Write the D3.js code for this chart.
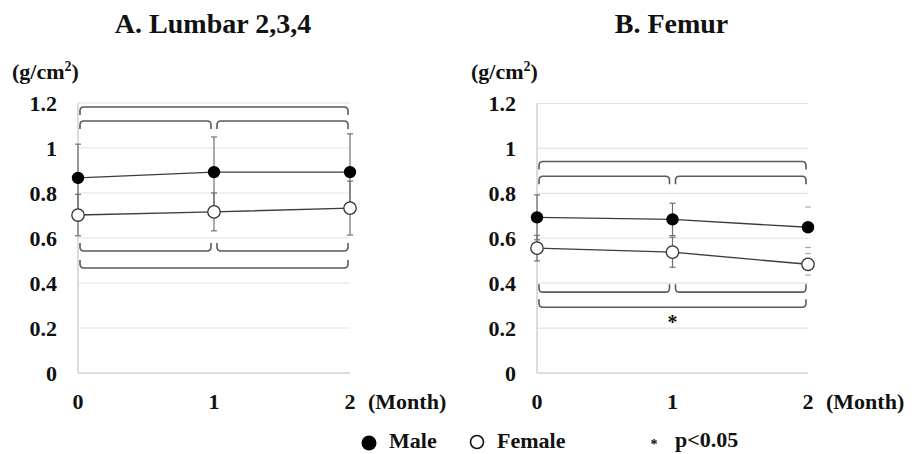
<!DOCTYPE html>
<html><head><meta charset="utf-8">
<script src="https://cdn.jsdelivr.net/npm/d3@7"></script>
<style>
body{margin:0;background:#fff;}
</style></head>
<body><svg id="c" width="912" height="454"></svg>
<script>
// ---- data ----
const months = [0, 1, 2];
const yTicks = [0, 0.2, 0.4, 0.6, 0.8, 1, 1.2];
const panelTitles = ["A. Lumbar 2,3,4", "B. Femur"];
const lumbarMale = [0.867, 0.893, 0.893];
const lumbarMaleSD = [0.15, 0.156, 0.17];
const lumbarFemale = [0.702, 0.716, 0.733];
const lumbarFemaleSD = [0.092, 0.084, 0.12];
const femurMale = [0.693, 0.684, 0.649];
const femurMaleSD = [0.10, 0.072, 0.09];
const femurFemale = [0.556, 0.538, 0.484];
const femurFemaleSD = [0.057, 0.067, 0.048];
// brackets: [from, to, level (g/cm2), direction (1=down tips, -1=up tips), significant]
const lumbarBrackets = [[0,2,1.182,1,false],[0,1,1.12,1,false],[1,2,1.12,1,false],[0,1,0.542,-1,false],[1,2,0.542,-1,false],[0,2,0.467,-1,false]];
const femurBrackets  = [[0,2,0.942,1,false],[0,1,0.876,1,false],[1,2,0.876,1,false],[0,1,0.36,-1,false],[1,2,0.36,-1,false],[0,2,0.293,-1,true]];
const legendLabels = ["Male", "Female", "p<0.05"];

const FONT = "'Liberation Serif', 'Times New Roman', Times, 'DejaVu Serif', serif";
const svg = d3.select("#c");
const T = sel => sel.attr("font-family", FONT).attr("font-weight", "bold").attr("fill", "#111");

const panels = [
  {title: panelTitles[0], left: 78, right: 350, top: 103, bottom: 373,
   male: lumbarMale, maleSD: lumbarMaleSD, female: lumbarFemale, femaleSD: lumbarFemaleSD,
   brackets: lumbarBrackets, capsOnlyLast: false},
  {title: panelTitles[1], left: 537, right: 808, top: 103.5, bottom: 373,
   male: femurMale, maleSD: femurMaleSD, female: femurFemale, femaleSD: femurFemaleSD,
   brackets: femurBrackets, capsOnlyLast: true}
];

panels.forEach(p => {
  const g = svg.append("g");
  const x = d3.scaleLinear().domain([0, 2]).range([p.left, p.right]);
  const y = d3.scaleLinear().domain([0, 1.2]).range([p.bottom, p.top]);

  // title
  g.append("text").attr("x", (p.left + p.right) / 2 - 1).attr("y", 33)
    .attr("text-anchor", "middle").attr("font-size", 28).call(T).text(p.title);
  // unit label
  const u = g.append("text").attr("x", p.left - 66).attr("y", 79).attr("font-size", 22).call(T);
  u.append("tspan").text("(g/cm");
  u.append("tspan").attr("dy", -8).attr("font-size", 14).text("2");
  u.append("tspan").attr("dy", 8).text(")");

  // gridlines
  g.selectAll(".grid").data(yTicks.filter(t => t > 0)).join("line")
    .attr("x1", p.left).attr("x2", p.right)
    .attr("y1", d => y(d)).attr("y2", d => y(d))
    .attr("stroke", "#e2e2e2").attr("stroke-width", 1.2);
  // axes lines
  g.append("line").attr("x1", p.left).attr("x2", p.left).attr("y1", y(1.2)).attr("y2", y(0))
    .attr("stroke", "#d0d0d0").attr("stroke-width", 1.5);
  g.append("line").attr("x1", p.left).attr("x2", p.right).attr("y1", y(0)).attr("y2", y(0))
    .attr("stroke", "#d0d0d0").attr("stroke-width", 1.5);

  // y tick labels
  g.selectAll(".yt").data(yTicks).join("text")
    .attr("x", p.left - 21).attr("y", d => y(d)).attr("dy", "0.35em")
    .attr("text-anchor", "end").attr("font-size", 22).call(T)
    .text(d => d3.format("")(d));
  // x tick labels
  g.selectAll(".xt").data(months).join("text")
    .attr("x", d => x(d)).attr("y", 409).attr("text-anchor", "middle")
    .attr("font-size", 22).call(T).text(d => d);
  g.append("text").attr("x", x(2) + 18).attr("y", 409).attr("font-size", 22).call(T).text("(Month)");

  // brackets
  const r = 4, tip = 8;
  p.brackets.forEach(b => {
    const [a, c, lvl, dir, sig] = b;
    let x0 = x(a) + 2, x1 = x(c) - 2;
    if (a === 1) x0 = x(a) + 3;
    if (c === 1) x1 = x(c) - 3;
    const yl = y(lvl), yt = yl + dir * tip;
    const path = `M${x0},${yt} L${x0},${yl + dir * r} Q${x0},${yl} ${x0 + r},${yl} L${x1 - r},${yl} Q${x1},${yl} ${x1},${yl + dir * r} L${x1},${yt}`;
    g.append("path").attr("d", path).attr("fill", "none").attr("stroke", "#5a5a5a").attr("stroke-width", 1.6);
    if (sig) {
      g.append("text").attr("x", (x(a) + x(c)) / 2).attr("y", yl + 22)
        .attr("text-anchor", "middle").attr("font-size", 20).call(T).text("*");
    }
  });

  // error bars
  const series = [{v: p.male, sd: p.maleSD}, {v: p.female, sd: p.femaleSD}];
  series.forEach(s => {
    months.forEach((m, i) => {
      const cx = x(m), y1 = y(s.v[i] + s.sd[i]), y2 = y(s.v[i] - s.sd[i]);
      const capsOnly = p.capsOnlyLast && i === 2;
      if (!capsOnly) {
        g.append("line").attr("x1", cx).attr("x2", cx).attr("y1", y1).attr("y2", y2)
          .attr("stroke", "#707070").attr("stroke-width", 1.2);
      }
      [y1, y2].forEach(yy => g.append("line").attr("x1", cx - 3).attr("x2", cx + 3)
        .attr("y1", yy).attr("y2", yy).attr("stroke", capsOnly ? "#aaaaaa" : "#707070").attr("stroke-width", 1.2));
    });
  });

  // lines
  const line = d3.line().x((d, i) => x(months[i])).y(d => y(d));
  [p.male, p.female].forEach(v => {
    g.append("path").datum(v).attr("d", line).attr("fill", "none")
      .attr("stroke", "#3c3c3c").attr("stroke-width", 1.4);
  });
  // points
  g.selectAll(".pm").data(p.male).join("circle")
    .attr("cx", (d, i) => x(months[i])).attr("cy", d => y(d)).attr("r", 6.2).attr("fill", "#000");
  g.selectAll(".pf").data(p.female).join("circle")
    .attr("cx", (d, i) => x(months[i])).attr("cy", d => y(d)).attr("r", 6.2)
    .attr("fill", "#fff").attr("stroke", "#333").attr("stroke-width", 1.3);
});

// legend
const lg = svg.append("g");
lg.append("circle").attr("cx", 369).attr("cy", 443).attr("r", 7.5).attr("fill", "#000");
lg.append("text").attr("x", 389).attr("y", 448).attr("font-size", 22).call(T).text(legendLabels[0]);
lg.append("circle").attr("cx", 477).attr("cy", 442).attr("r", 6.5).attr("fill", "#fff").attr("stroke", "#111").attr("stroke-width", 1.6);
lg.append("text").attr("x", 497).attr("y", 448).attr("font-size", 22).call(T).text(legendLabels[1]);
lg.append("text").attr("x", 654).attr("y", 449).attr("text-anchor", "middle").attr("font-size", 14).call(T).text("*");
lg.append("text").attr("x", 675).attr("y", 447).attr("font-size", 22).call(T).text(legendLabels[2]);
</script></body></html>
